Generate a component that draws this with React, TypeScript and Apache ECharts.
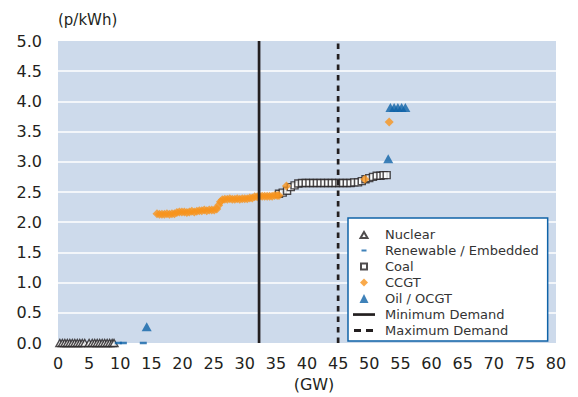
import React, { useEffect, useRef } from "react";
import * as echarts from "echarts";

const FONT = "'DejaVu Sans', 'Liberation Sans', Arial, sans-serif";

// ---- axes ----
const xRange = [0, 80];
const xStep = 5;
const yRange = [0, 5];
const yStep = 0.5;
const xAxisTitle = "(GW)";
const yAxisTitle = "(p/kWh)";

// ---- series names ----
const seriesNames = [
  "Nuclear",
  "Renewable / Embedded",
  "Coal",
  "CCGT",
  "Oil / OCGT",
  "Minimum Demand",
  "Maximum Demand",
];

// ---- data: [capacity GW, cost p/kWh] ----
const nuclear: [number, number][] = [
  [0.3, 0], [0.7, 0], [1.1, 0], [1.5, 0], [1.9, 0], [2.3, 0], [2.7, 0], [3.1, 0],
  [3.5, 0], [3.9, 0], [4.3, 0], [5.0, 0], [5.5, 0], [5.9, 0], [6.3, 0], [6.7, 0],
  [7.1, 0], [7.5, 0], [7.9, 0], [8.3, 0], [8.7, 0], [9.0, 0],
];

const renewable: [number, number][] = [
  [9.7, 0], [10.5, 0], [13.7, 0],
];

const coal: [number, number][] = [
  [35.5, 2.47], [36.1, 2.49], [36.8, 2.52], [37.4, 2.58], [38.0, 2.61], [38.6, 2.64],
  [39.2, 2.65], [39.8, 2.65], [40.4, 2.65], [41.0, 2.65], [41.6, 2.65], [42.2, 2.65],
  [42.8, 2.65], [43.4, 2.65], [44.0, 2.65], [44.6, 2.65], [45.2, 2.65], [45.8, 2.65],
  [46.4, 2.65], [47.0, 2.65], [47.6, 2.66], [48.2, 2.66], [48.8, 2.68], [49.4, 2.71],
  [50.0, 2.73], [50.6, 2.75], [51.2, 2.77], [51.8, 2.77], [52.3, 2.78], [52.8, 2.78],
];

const ccgt: [number, number][] = [
  [15.9, 2.14], [16.3, 2.13], [16.7, 2.13], [17.1, 2.13], [17.5, 2.14], [17.9, 2.13],
  [18.3, 2.14], [18.7, 2.14], [19.1, 2.16], [19.5, 2.17], [19.9, 2.17], [20.3, 2.17],
  [20.7, 2.16], [21.1, 2.17], [21.5, 2.18], [21.9, 2.17], [22.3, 2.18], [22.7, 2.19],
  [23.1, 2.19], [23.5, 2.2], [23.9, 2.19], [24.3, 2.2], [24.7, 2.2], [25.1, 2.2],
  [25.5, 2.22], [25.8, 2.28], [26.1, 2.34], [26.4, 2.37], [26.8, 2.38], [27.2, 2.38],
  [27.6, 2.39], [28.0, 2.38], [28.4, 2.38], [28.8, 2.39], [29.2, 2.38], [29.6, 2.39],
  [30.0, 2.39], [30.4, 2.39], [30.8, 2.4], [31.2, 2.4], [31.6, 2.42], [32.0, 2.42],
  [32.4, 2.43], [32.8, 2.43], [33.2, 2.43], [33.6, 2.43], [34.0, 2.43], [34.4, 2.43],
  [34.8, 2.44], [35.2, 2.44], [35.5, 2.44], [36.7, 2.6], [49.3, 2.71], [53.2, 3.66],
];

const oil: [number, number][] = [
  [14.25, 0.27], [53.05, 3.05], [53.4, 3.9], [54.0, 3.9], [54.6, 3.9], [55.2, 3.9], [55.8, 3.9],
];

const minimumDemandGW = 32.3;
const maximumDemandGW = 45.0;

// ---- colours ----
const INK = "#231f20";
const ORANGE = "#f7941d";
const BLUE = "#0f63a8";
const PLOT_BG = "#cddaeb";

// legend icons drawn in a 22 x 9 frame (first two moves fix the frame)
const FRAME = "M0,0M22,9";
const legendIcons: Record<string, string> = {
  "Nuclear": `path://${FRAME}M11,2L14.5,8H7.5Z`,
  "Renewable / Embedded": `path://${FRAME}M8.5,3.5h5v2h-5z`,
  "Coal": `path://${FRAME}M8,1.5h6v6h-6z`,
  "CCGT": `path://${FRAME}M11,0.5L15,4.5L11,8.5L7,4.5Z`,
  "Oil / OCGT": `path://${FRAME}M11,0L15.5,9H6.5Z`,
  "Minimum Demand": `path://${FRAME}M0,3.2h22v2.7h-22z`,
  "Maximum Demand": `path://${FRAME}M1,3h7v3h-7zM13,3h7v3h-7z`,
};

function buildOption(): echarts.EChartsOption {
  const demandLine = (name: string, gw: number, dashed: boolean) => ({
    name,
    type: "line" as const,
    data: [[gw, yRange[0]], [gw, yRange[1]]],
    symbol: "none",
    showSymbol: false,
    clip: false,
    silent: true,
    color: INK,
    lineStyle: { color: INK, width: 2.7, type: dashed ? [5.5, 5] : "solid" },
  });

  return {
    animation: false,
    textStyle: { fontFamily: FONT },
    grid: {
      left: 58,
      right: 22,
      top: 41,
      bottom: 50.5,
      show: true,
      backgroundColor: PLOT_BG,
      borderWidth: 0,
    },
    xAxis: {
      type: "value",
      min: xRange[0],
      max: xRange[1],
      interval: xStep,
      name: xAxisTitle,
      nameLocation: "middle",
      nameGap: 33,
      nameTextStyle: { fontFamily: FONT, fontSize: 16, color: INK, padding: [0, 0, 0, 14] },
      axisLine: { show: false },
      axisTick: { show: false },
      splitLine: { show: false },
      axisLabel: { fontFamily: FONT, fontSize: 16, color: INK, margin: 12 },
    },
    yAxis: {
      type: "value",
      min: yRange[0],
      max: yRange[1],
      interval: yStep,
      name: yAxisTitle,
      nameLocation: "end",
      nameGap: 14,
      nameTextStyle: { fontFamily: FONT, fontSize: 15, color: INK, align: "left", padding: [0, 0, 0, 0] },
      axisLine: { show: false },
      axisTick: { show: false },
      splitLine: {
        show: true,
        showMinLine: false,
        showMaxLine: false,
        lineStyle: { color: "#ffffff", width: 1.5 },
      } as any,
      axisLabel: {
        fontFamily: FONT,
        fontSize: 16,
        color: INK,
        margin: 16,
        formatter: (v: number) => v.toFixed(1),
      },
    },
    legend: {
      orient: "vertical",
      left: 348,
      top: 218,
      itemWidth: 22,
      itemHeight: 9,
      itemGap: 3,
      padding: [10, 9, 4, 4],
      backgroundColor: "#ffffff",
      borderColor: BLUE,
      borderWidth: 1.5,
      borderRadius: 0,
      selectedMode: false,
      textStyle: { fontFamily: FONT, fontSize: 13, color: "#333333", padding: [0, 0, 0, 5] },
      data: seriesNames.map((name) => ({
        name,
        icon: legendIcons[name],
        ...(name.indexOf("Demand") >= 0 ? { itemStyle: { borderWidth: 0 } } : {}),
      })),
    },
    series: [
      {
        name: seriesNames[0],
        type: "scatter",
        data: nuclear,
        symbol: "triangle",
        symbolSize: [8, 7],
        clip: false,
        silent: true,
        itemStyle: { color: "#ffffff", borderColor: INK, borderWidth: 1.4 },
      },
      {
        name: seriesNames[1],
        type: "scatter",
        data: renewable,
        symbol: "rect",
        symbolSize: [7, 2.5],
        clip: false,
        silent: true,
        itemStyle: { color: BLUE },
      },
      {
        name: seriesNames[2],
        type: "scatter",
        data: coal,
        symbol: "rect",
        symbolSize: 7,
        clip: false,
        silent: true,
        itemStyle: { color: "#ffffff", borderColor: INK, borderWidth: 1.4 },
      },
      {
        name: seriesNames[3],
        type: "scatter",
        data: ccgt,
        symbol: "diamond",
        symbolSize: 9,
        clip: false,
        silent: true,
        itemStyle: { color: ORANGE },
      },
      {
        name: seriesNames[4],
        type: "scatter",
        data: oil,
        symbol: "triangle",
        symbolSize: [10, 9],
        clip: false,
        silent: true,
        itemStyle: { color: BLUE },
      },
      demandLine(seriesNames[5], minimumDemandGW, false),
      demandLine(seriesNames[6], maximumDemandGW, true),
    ] as any,
  };
}

export default function App() {
  const ref = useRef<HTMLDivElement>(null);
  useEffect(() => {
    if (!ref.current) return;
    const chart = echarts.init(ref.current, null, { renderer: "svg" });
    chart.setOption(buildOption());
    return () => chart.dispose();
  }, []);
  return (
    <div
      ref={ref}
      style={{ position: "fixed", left: 0, top: 0, width: 578, height: 397, background: "#ffffff" }}
    />
  );
}
